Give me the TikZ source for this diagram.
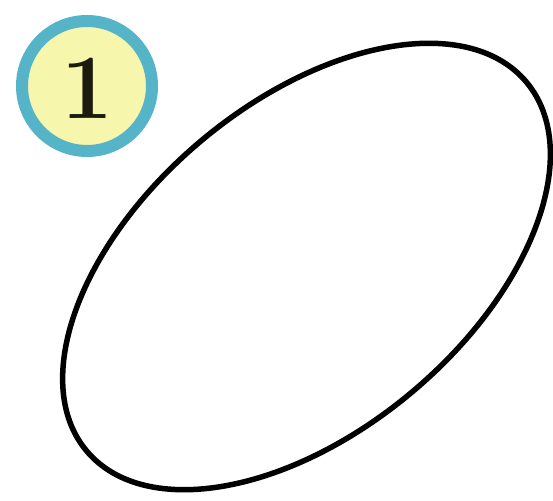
\documentclass[tikz,border=0pt]{standalone}
\definecolor{ringcol}{RGB}{86,180,200}
\definecolor{badgefill}{RGB}{246,246,172}
\definecolor{numcol}{RGB}{28,28,14}
\tikzset{
  badge/.style={circle, draw=ringcol, fill=badgefill, line width=12pt, minimum size=130pt, inner sep=0pt},
  shapeline/.style={draw=black, line width=5.5pt}
}
\begin{document}
\begin{tikzpicture}[x=1pt,y=1pt]
\useasboundingbox (0,0) rectangle (553,500);
\node[badge] (b) at (87,414) {};
\node[text=numcol, font=\fontsize{92}{92}\selectfont\bfseries, inner sep=0pt] (n) at (87,412) {1};
\draw[shapeline, rotate around={40:(306.5,233.5)}] (306.5,233.5) ellipse [x radius=287, y radius=164];
\coordinate (c) at (306.5,233.5);
\end{tikzpicture}
\end{document}
